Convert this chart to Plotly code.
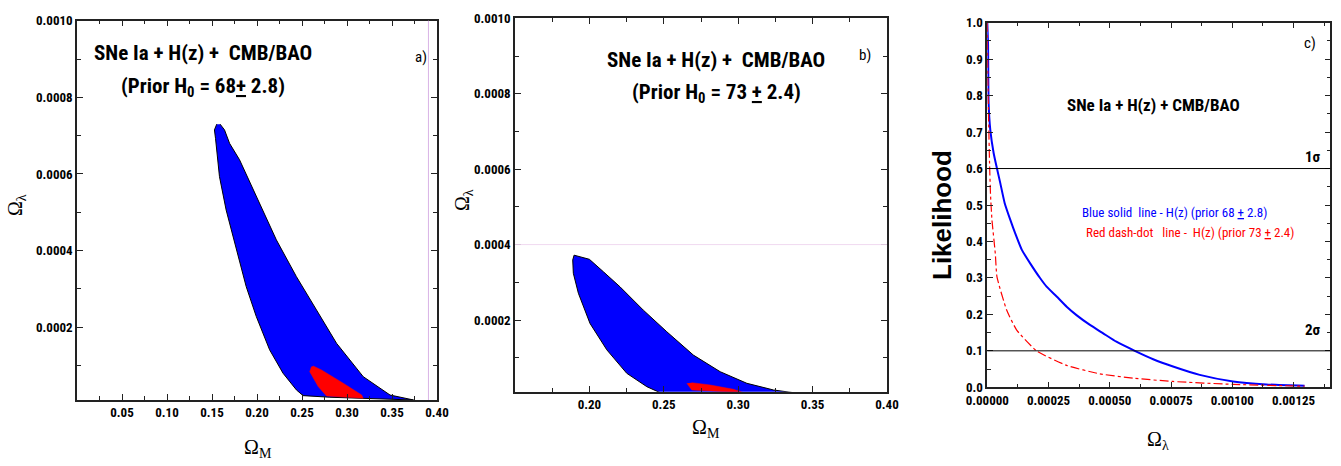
import plotly.graph_objects as go

# ---------------- data ----------------
# Panel a: contours in (Omega_M, Omega_lambda), prior H0 = 68 +/- 2.8
blue_a_x = [0.1553, 0.1527, 0.1539, 0.1583, 0.1657, 0.1769, 0.1880, 0.1992, 0.2140, 0.2289,
            0.2438, 0.2512, 0.2810, 0.3740, 0.3478, 0.3180, 0.2884, 0.2661, 0.2438, 0.2215,
            0.1992, 0.1806, 0.1695, 0.1639, 0.1590]
blue_a_y = [0.000730, 0.000715, 0.000693, 0.000593, 0.000506, 0.000402, 0.000306, 0.000228, 0.000141, 0.000080,
            0.0000363, 0.0000214, 0.0000172, 0.0000100, 0.0000230, 0.0000710, 0.000158, 0.000245, 0.000332, 0.000428,
            0.000541, 0.000637, 0.000680, 0.000715, 0.000730]
red_a_x = [0.2605, 0.2586, 0.2680, 0.2772, 0.3180, 0.3163, 0.2958, 0.2716, 0.2623]
red_a_y = [0.0000971, 0.0000840, 0.0000450, 0.0000206, 0.0000146, 0.0000232, 0.0000538, 0.0000885, 0.0000990]

# Panel b: contours, prior H0 = 73 +/- 2.4
blue_b_x = [0.1897, 0.2000, 0.2094, 0.2206, 0.2363, 0.2520, 0.2699, 0.2879, 0.3058, 0.3237,
            0.3372, 0.2475, 0.2386, 0.2251, 0.2117, 0.2004, 0.1926, 0.1892, 0.1888, 0.1897]
blue_b_y = [0.000372, 0.000361, 0.000328, 0.000288, 0.000226, 0.000169, 0.000107, 0.000063, 0.0000323, 0.0000146,
            0.0000074, 0.0000074, 0.0000233, 0.0000588, 0.000121, 0.000191, 0.000271, 0.000324, 0.000359, 0.000372]
red_b_x = [0.2655, 0.2688, 0.3036, 0.2968, 0.2812, 0.2688]
red_b_y = [0.0000323, 0.0000146, 0.0000074, 0.0000164, 0.0000278, 0.0000339]

# Panel c: likelihood curves vs Omega_lambda
blue_c_x = [0.0, 0.000003, 0.0000054, 0.0000122, 0.000026, 0.0000395, 0.000053, 0.000071, 0.000094, 0.000114,
            0.000141, 0.000175, 0.000216, 0.000242, 0.000283, 0.000324, 0.000364, 0.000419, 0.000473, 0.000527,
            0.000602, 0.000677, 0.000758, 0.000867, 0.001003, 0.001139, 0.001295]
blue_c_y = [1.0, 0.94, 0.779, 0.706, 0.642, 0.600, 0.560, 0.505, 0.459, 0.422,
            0.377, 0.340, 0.299, 0.276, 0.249, 0.221, 0.198, 0.171, 0.148, 0.125,
            0.100, 0.077, 0.057, 0.034, 0.016, 0.008, 0.004]
red_c_x = [0.0, 0.000002, 0.0000054, 0.000009, 0.000013, 0.000019, 0.0000326, 0.0000395, 0.000079, 0.000120,
           0.000201, 0.000324, 0.000459, 0.000595, 0.000758, 0.001003, 0.001295]
red_c_y = [1.0, 0.85, 0.733, 0.62, 0.53, 0.459, 0.367, 0.303, 0.212, 0.157,
           0.100, 0.060, 0.037, 0.025, 0.016, 0.008, 0.003]
sigma_levels = [0.6, 0.1]
sigma_labels = ["1σ", "2σ"]

xa_ticks = [0.05, 0.10, 0.15, 0.20, 0.25, 0.30, 0.35, 0.40]
xb_ticks = [0.20, 0.25, 0.30, 0.35, 0.40]
y_ab_ticks = [0.0002, 0.0004, 0.0006, 0.0008, 0.0010]
xc_ticks = [0.0, 0.00025, 0.00050, 0.00075, 0.00100, 0.00125]
yc_ticks = [0.0, 0.1, 0.2, 0.3, 0.4, 0.5, 0.6, 0.7, 0.8, 0.9, 1.0]

# ---------------- figure ----------------
W, H = 1341, 466
NARROW = "Roboto Condensed, Liberation Sans Narrow, Arial Narrow, Liberation Sans"
SERIF = "Liberation Serif, Times New Roman, serif"

def px(x):
    return x / W

def py(y):
    return 1 - y / H

fig = go.Figure()

BLUE = "#0000ff"
RED = "#ff0000"

fig.add_trace(go.Scatter(x=blue_a_x, y=blue_a_y, fill="toself", fillcolor=BLUE, mode="lines",
                         line=dict(color="black", width=1), xaxis="x", yaxis="y", showlegend=False))
fig.add_trace(go.Scatter(x=red_a_x, y=red_a_y, fill="toself", fillcolor=RED, mode="lines",
                         line=dict(color=RED, width=0.5), xaxis="x", yaxis="y", showlegend=False))
fig.add_trace(go.Scatter(x=blue_b_x, y=blue_b_y, fill="toself", fillcolor=BLUE, mode="lines",
                         line=dict(color="black", width=1), xaxis="x2", yaxis="y2", showlegend=False))
fig.add_trace(go.Scatter(x=red_b_x, y=red_b_y, fill="toself", fillcolor=RED, mode="lines",
                         line=dict(color=RED, width=0.5), xaxis="x2", yaxis="y2", showlegend=False))
fig.add_trace(go.Scatter(x=blue_c_x, y=blue_c_y, mode="lines", line=dict(color=BLUE, width=2, shape="spline", smoothing=0.5),
                         xaxis="x3", yaxis="y3", showlegend=False))
fig.add_trace(go.Scatter(x=red_c_x, y=red_c_y, mode="lines",
                         line=dict(color=RED, width=1.2, dash="dashdot", shape="spline", smoothing=0.5),
                         xaxis="x3", yaxis="y3", showlegend=False))

tickfont = dict(family=NARROW, size=13, color="black", weight="bold")

def axis_common():
    return dict(showline=True, linecolor="#222222", linewidth=1.5, mirror="ticks",
                ticks="inside", ticklen=6, tickwidth=1, tickcolor="#222222", automargin=False,
                showgrid=False, zeroline=False, tickfont=tickfont)

fig.update_layout(
    width=W, height=H, margin=dict(l=0, r=0, t=0, b=0, pad=0, autoexpand=False),
    paper_bgcolor="white", plot_bgcolor="white",
    xaxis=dict(domain=[px(77), px(437)], range=[0, 0.40], anchor="y", tickvals=xa_ticks, tickformat=".2f",
               minor=dict(dtick=0.025, tick0=0, ticks="inside", ticklen=4, tickcolor="#222222"),
               **axis_common()),
    yaxis=dict(domain=[py(400), py(20.7)], range=[0.00001, 0.001], anchor="x", tickvals=y_ab_ticks, tickformat=".4f",
               minor=dict(dtick=0.0001, tick0=0, ticks="inside", ticklen=4, tickcolor="#222222"),
               **axis_common()),
    xaxis2=dict(domain=[px(515), px(887)], range=[0.15, 0.40], anchor="y2", tickvals=xb_ticks, tickformat=".2f",
                minor=dict(dtick=0.025, tick0=0, ticks="inside", ticklen=4, tickcolor="#222222"),
                **axis_common()),
    yaxis2=dict(domain=[py(391.7), py(18.3)], range=[0.00001, 0.001], anchor="x2", tickvals=y_ab_ticks, tickformat=".4f",
                minor=dict(dtick=0.0001, tick0=0, ticks="inside", ticklen=4, tickcolor="#222222"),
                **axis_common()),
    xaxis3=dict(domain=[px(987.3), px(1330.3)], range=[0, 0.0014], anchor="y3", tickvals=xc_ticks, tickformat=".5f",
                minor=dict(dtick=0.000125, tick0=0, ticks="inside", ticklen=4, tickcolor="#222222"),
                **axis_common()),
    yaxis3=dict(domain=[py(387.3), py(22.7)], range=[0, 1.0], anchor="x3", tickvals=yc_ticks, tickformat=".1f",
                minor=dict(dtick=0.05, tick0=0, ticks="inside", ticklen=4, tickcolor="#222222"),
                **axis_common()),
)

shapes = [
    dict(type="line", xref="x", yref="y domain", x0=0.3905, x1=0.3905, y0=0, y1=1,
         line=dict(color="#d9b3e6", width=1)),
    dict(type="line", xref="x2 domain", yref="y2", x0=0, x1=1, y0=0.0004, y1=0.0004,
         line=dict(color="#f0d9f0", width=1)),
]
for lev in sigma_levels:
    shapes.append(dict(type="line", xref="x3 domain", yref="y3", x0=0, x1=1, y0=lev, y1=lev,
                       line=dict(color="black", width=1)))
fig.update_layout(shapes=shapes)

anns = []

def ann(x, y, text, size, family=NARROW, weight="normal", color="black", angle=0, xanchor="center"):
    anns.append(dict(x=px(x), y=py(y), xref="paper", yref="paper", text=text, showarrow=False,
                     xanchor=xanchor, yanchor="middle", textangle=angle,
                     font=dict(family=family, size=size, color=color, weight=weight)))

# panel a
ann(203, 53, "SNe Ia + H(z) +  CMB/BAO", 21, weight="bold")
ann(203, 87, "(Prior H<sub>0</sub> = 68<u>+</u> 2.8)", 21, weight="bold")
ann(421, 57, "a)", 15)
ann(258, 448, "Ω<sub>M</sub>", 20, family=SERIF)
ann(16, 205, "Ω<sub>λ</sub>", 20, family=SERIF, angle=-90)
# panel b
ann(716, 60, "SNe Ia + H(z) +  CMB/BAO", 21, weight="bold")
ann(716, 93, "(Prior H<sub>0</sub> = 73 <u>+</u> 2.4)", 21, weight="bold")
ann(865, 55, "b)", 15)
ann(706, 428, "Ω<sub>M</sub>", 20, family=SERIF)
ann(463, 200, "Ω<sub>λ</sub>", 20, family=SERIF, angle=-90)
# panel c
ann(1153, 105, "SNe Ia + H(z) + CMB/BAO", 17, weight="bold")
ann(1310, 43, "c)", 15)
ann(1313, 157, sigma_labels[0], 15, weight="bold")
ann(1313, 330, sigma_labels[1], 15, weight="bold")
ann(1174, 212, "Blue solid  line - H(z) (prior 68 <u>+</u> 2.8)", 13, color=BLUE)
ann(1190, 232, "Red dash-dot   line -  H(z) (prior 73 <u>+</u> 2.4)", 13, color=RED)
ann(1158, 440, "Ω<sub>λ</sub>", 20, family=SERIF)
ann(942, 215, "Likelihood", 26, family="Liberation Sans, Arial", weight="bold", angle=-90)

fig.update_layout(annotations=anns)
fig.write_html("out.html", config={"displayModeBar": False},
               post_script="document.body.style.margin='0';")
